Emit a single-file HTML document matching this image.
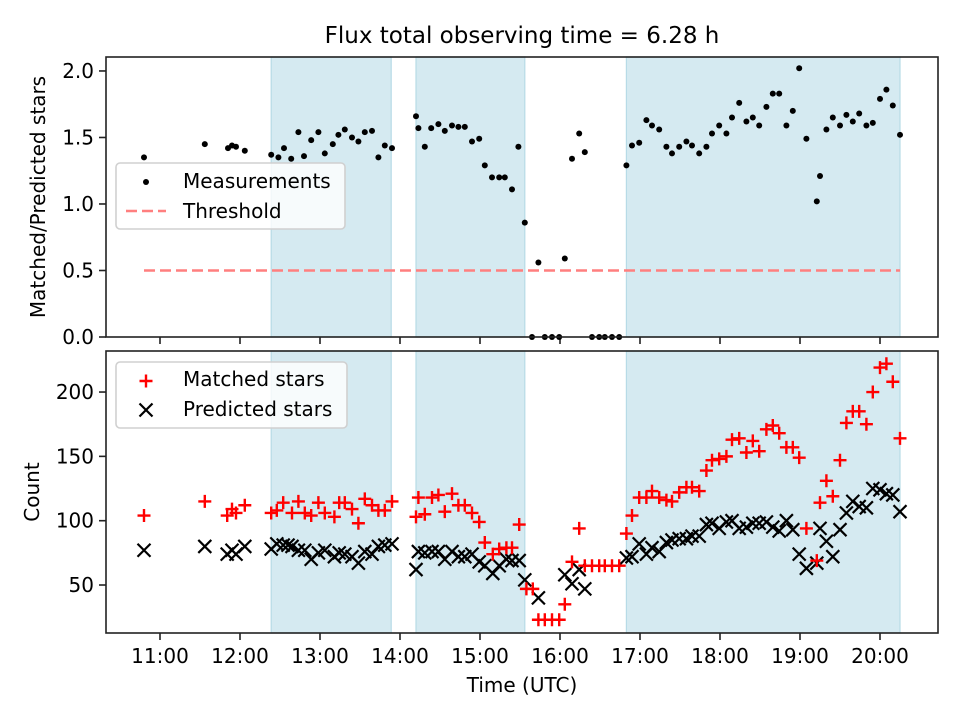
<!DOCTYPE html>
<html><head><meta charset="utf-8"><style>
html,body{margin:0;padding:0;background:#fff}
svg{display:block;font-family:"DejaVu Sans","Liberation Sans",sans-serif}
</style></head><body>
<svg id="fig" width="960" height="720" viewBox="0 0 960 720" xmlns="http://www.w3.org/2000/svg"></svg>
<script>
// ---- data ----
const ratioTimes=[10.80,11.56,11.85,11.90,11.95,12.06,12.39,12.48,12.55,12.64,12.73,12.80,12.89,12.98,13.06,13.16,13.23,13.31,13.40,13.48,13.56,13.65,13.73,13.81,13.90,14.20,14.23,14.31,14.39,14.48,14.56,14.65,14.73,14.81,14.90,14.99,15.06,15.15,15.24,15.31,15.40,15.48,15.56,15.65,15.73,15.81,15.90,15.99,16.06,16.15,16.24,16.31,16.40,16.49,16.56,16.65,16.74,16.83,16.90,16.99,17.08,17.15,17.24,17.33,17.40,17.49,17.58,17.65,17.74,17.83,17.90,17.99,18.08,18.15,18.24,18.33,18.41,18.49,18.58,18.66,18.74,18.83,18.91,18.99,19.08,19.21,19.25,19.33,19.41,19.50,19.58,19.66,19.74,19.83,19.91,20.00,20.08,20.16,20.25];
const ratioValues=[1.35,1.45,1.42,1.44,1.43,1.40,1.37,1.35,1.42,1.34,1.54,1.36,1.48,1.54,1.38,1.45,1.52,1.56,1.50,1.47,1.54,1.55,1.35,1.44,1.42,1.66,1.57,1.43,1.57,1.60,1.55,1.59,1.58,1.58,1.47,1.49,1.29,1.20,1.20,1.20,1.11,1.43,0.86,0,0.56,0,0,0,0.59,1.34,1.53,1.39,0,0,0,0,0,1.29,1.44,1.46,1.63,1.59,1.56,1.43,1.38,1.43,1.47,1.44,1.38,1.43,1.53,1.59,1.53,1.65,1.76,1.62,1.65,1.59,1.73,1.83,1.83,1.59,1.70,2.02,1.49,1.02,1.21,1.56,1.65,1.59,1.67,1.62,1.68,1.59,1.61,1.79,1.86,1.74,1.52];
const threshold=0.5;
const matchedTimes=[10.80,11.56,11.84,11.90,11.95,12.06,12.39,12.46,12.54,12.65,12.73,12.81,12.89,12.98,13.06,13.18,13.24,13.31,13.40,13.48,13.56,13.65,13.73,13.81,13.90,14.20,14.23,14.31,14.40,14.48,14.56,14.65,14.73,14.81,14.90,14.99,15.06,15.16,15.24,15.33,15.40,15.49,15.58,15.66,15.73,15.81,15.90,15.99,16.06,16.15,16.24,16.31,16.40,16.49,16.56,16.65,16.74,16.83,16.90,16.99,17.08,17.15,17.24,17.33,17.40,17.49,17.58,17.65,17.74,17.83,17.90,17.99,18.08,18.15,18.24,18.33,18.41,18.49,18.58,18.66,18.74,18.83,18.91,18.99,19.08,19.21,19.25,19.33,19.41,19.50,19.58,19.66,19.74,19.83,19.91,20.00,20.08,20.16,20.25];
const matchedValues=[104,115,104,109,106,112,106,108,114,106,115,106,104,114,106,103,114,114,109,98,117,112,108,108,115,103,118,105,118,120,107,121,112,112,106,99,83,74,78,79,79,97,47,47,23,23,23,23,35,68,94,65,65,65,65,65,65,90,104,118,118,123,118,116,115,122,126,126,123,139,147,148,150,163,164,153,162,154,171,174,168,157,157,149,94,69,114,131,119,147,176,185,185,175,200,219,222,208,164];
const predictedTimes=[10.80,11.56,11.84,11.90,11.95,12.06,12.39,12.46,12.54,12.60,12.65,12.73,12.81,12.89,12.98,13.06,13.18,13.24,13.31,13.40,13.48,13.56,13.65,13.73,13.81,13.90,14.20,14.23,14.31,14.40,14.48,14.56,14.65,14.73,14.81,14.90,14.99,15.06,15.16,15.24,15.33,15.40,15.49,15.56,15.73,16.06,16.15,16.24,16.31,16.83,16.90,16.99,17.08,17.15,17.24,17.33,17.40,17.49,17.58,17.65,17.74,17.83,17.90,17.99,18.08,18.15,18.24,18.33,18.41,18.49,18.58,18.66,18.74,18.83,18.91,18.99,19.08,19.21,19.25,19.33,19.41,19.50,19.58,19.66,19.74,19.83,19.91,20.00,20.08,20.16,20.25];
const predictedValues=[77,80,74,77,74,80,78,82,81,81,80,77,77,70,75,77,72,75,74,72,67,76,74,80,81,82,62,76,75,76,76,70,76,72,72,74,68,65,59,65,70,69,69,54,40,58,51,62,47,71,72,82,74,79,76,83,85,86,86,88,88,97,98,94,99,100,94,95,98,98,99,95,92,100,93,74,63,67,94,84,72,93,106,115,111,110,125,124,121,120,107];
const shadeStarts=[12.39,14.20,16.83];
const shadeEnds=[13.89,15.56,20.25];
const xTickLabels=["11:00","12:00","13:00","14:00","15:00","16:00","17:00","18:00","19:00","20:00"];
const xTickHours=[11,12,13,14,15,16,17,18,19,20];
const topTicks=[0.0,0.5,1.0,1.5,2.0];
const botTicks=[50,100,150,200];

// ---- layout ----
const L=106,R=938,T1=57,B1=337,T2=351,B2=633;
const xmin=10.325,xmax=20.725;
const X=h=>L+(h-xmin)/(xmax-xmin)*(R-L);
const Y1=v=>B1-(v-0)/(2.105-0)*(B1-T1);
const Y2=v=>B2-(v-12.7)/(231.9-12.7)*(B2-T2);
const NS="http://www.w3.org/2000/svg";
const svg=document.getElementById('fig');
function el(tag,attrs,parent){const e=document.createElementNS(NS,tag);for(const k in attrs)e.setAttribute(k,attrs[k]);(parent||svg).appendChild(e);return e;}
function txt(s,attrs,parent){const e=el('text',attrs,parent);e.textContent=s;return e;}

function panel(T,B,Y,ticks,fmt,name){
  const g=el('g',{});
  
  
  for(let i=0;i<shadeStarts.length;i++){
    const r=el('rect',{x:X(shadeStarts[i]),y:T,width:X(shadeEnds[i])-X(shadeStarts[i]),height:B-T,fill:'#d5eaf1',stroke:'#b7dbe7','stroke-width':1.2},g);
    
    
  }
  ticks.forEach(v=>{
    const y=Y(v);
    el('line',{x1:L-7,x2:L,y1:y,y2:y,stroke:'#222','stroke-width':1.6},g);
    const t=txt(fmt(v),{x:L-12,y:y+7,'font-size':20,'text-anchor':'end'},g);
    
    
  });
  xTickHours.forEach(h=>{el('line',{x1:X(h),x2:X(h),y1:B,y2:B+7,stroke:'#222','stroke-width':1.6},g);});
  return g;
}
const g1=panel(T1,B1,Y1,topTicks,v=>v.toFixed(1),'ratio-panel');
const g2=panel(T2,B2,Y2,botTicks,v=>String(v),'count-panel');

// threshold
const th=el('line',{x1:X(ratioTimes[0]),x2:X(ratioTimes[ratioTimes.length-1]),y1:Y1(threshold),y2:Y1(threshold),stroke:'#ff7f7f','stroke-width':2.6,'stroke-dasharray':'11,5'},g1);


// measurements
ratioTimes.forEach((t,i)=>{
  const c=el('circle',{cx:X(t),cy:Y1(ratioValues[i]),r:3,fill:'#000'},g1);
  
  
});
// predicted (x)
predictedTimes.forEach((t,i)=>{
  const x=X(t),y=Y2(predictedValues[i]),s=6.5;
  const p=el('path',{d:`M${x-s},${y-s}L${x+s},${y+s}M${x-s},${y+s}L${x+s},${y-s}`,stroke:'#000','stroke-width':2.2,fill:'none'},g2);
  
  
});
// matched (+)
matchedTimes.forEach((t,i)=>{
  const x=X(t),y=Y2(matchedValues[i]),s=6.5;
  const p=el('path',{d:`M${x-s},${y}L${x+s},${y}M${x},${y-s}L${x},${y+s}`,stroke:'#ff0000','stroke-width':2.4,fill:'none'},g2);
  
  
});
// frames
[[T1,B1],[T2,B2]].forEach(([T,B])=>{el('rect',{x:L,y:T,width:R-L,height:B-T,fill:'none',stroke:'#222','stroke-width':1.6});});
// x tick labels
xTickHours.forEach((h,i)=>{
  const t=txt(xTickLabels[i],{x:X(h),y:663,'font-size':20,'text-anchor':'middle'});
  
  
});
// legends
function legend(x,y,w,h,name){
  const r=el('rect',{x:x,y:y,width:w,height:h,rx:4,fill:'#fff','fill-opacity':0.8,stroke:'#d0d0d0','stroke-width':1.6});
  
  
}
legend(116,163,229,66,'ratio-legend');
el('circle',{cx:146,cy:182,r:3,fill:'#000'});
txt('Measurements',{x:183,y:188,'font-size':20});
el('line',{x1:126,x2:166,y1:211,y2:211,stroke:'#ff7f7f','stroke-width':2.6,'stroke-dasharray':'11,5'});
txt('Threshold',{x:183,y:218,'font-size':20});
legend(116,362,231,66,'count-legend');
el('path',{d:'M139.5,381L152.5,381M146,374.5L146,387.5',stroke:'#ff0000','stroke-width':2.4});
txt('Matched stars',{x:183,y:386,'font-size':20});
el('path',{d:'M139.5,403.5L152.5,416.5M139.5,416.5L152.5,403.5',stroke:'#000','stroke-width':2.2});
txt('Predicted stars',{x:183,y:416,'font-size':20});
// titles
const tt=txt('Flux total observing time = 6.28 h',{x:522,y:43,'font-size':23,'text-anchor':'middle'});


const xl=txt('Time (UTC)',{x:522,y:692,'font-size':20,'text-anchor':'middle'});


const yl1=txt('Matched/Predicted stars',{x:0,y:0,'font-size':20,'text-anchor':'middle',transform:'translate(45,197) rotate(-90)'});


const yl2=txt('Count',{x:0,y:0,'font-size':20,'text-anchor':'middle',transform:'translate(39,492) rotate(-90)'});


</script>
</body></html>
